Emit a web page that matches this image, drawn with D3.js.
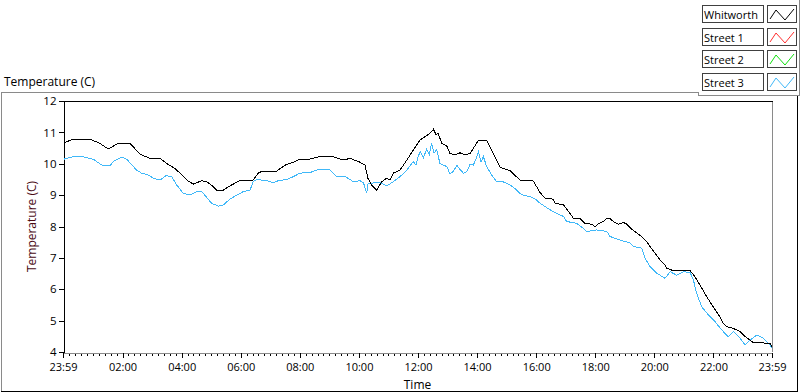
<!DOCTYPE html>
<html>
<head>
<meta charset="utf-8">
<script src="https://cdn.jsdelivr.net/npm/d3@7"></script>
<style>
  body { margin: 0; background: #fff; }
  svg { display: block; font-family: "Open Sans", "Liberation Sans", sans-serif; }
</style>
</head>
<body>
<div id="chart"></div>
<script>
// hours after the 23:59 start, and temperatures (C)
const whitworthHours = [0.00, 0.29, 0.97, 1.25, 1.53, 1.87, 2.27, 2.61, 2.95, 3.28, 3.51, 3.79, 3.96, 4.19, 4.41, 4.70, 4.86, 5.09, 5.20, 5.43, 5.60, 5.82, 5.99, 6.43, 6.61, 6.73, 7.23, 7.35, 7.57, 7.80, 8.02, 8.36, 8.70, 9.14, 9.48, 9.72, 10.05, 10.22, 10.32, 10.45, 10.62, 10.79, 10.96, 11.07, 11.18, 11.41, 11.64, 11.86, 12.09, 12.25, 12.42, 12.54, 12.63, 12.70, 12.82, 12.99, 13.10, 13.27, 13.44, 13.61, 13.78, 13.89, 14.06, 14.34, 14.51, 14.68, 14.79, 15.13, 15.47, 15.92, 16.15, 16.32, 16.60, 16.66, 16.94, 17.16, 17.28, 17.50, 17.67, 17.90, 18.01, 18.12, 18.29, 18.41, 18.52, 18.63, 18.80, 18.97, 19.09, 19.25, 19.42, 19.59, 19.76, 19.87, 20.04, 20.21, 20.38, 20.44, 20.61, 21.23, 21.39, 21.56, 21.79, 22.01, 22.24, 22.35, 22.47, 22.69, 22.92, 23.09, 23.26, 23.37, 23.93, 24.00];
const whitworthTemp = [10.66, 10.76, 10.76, 10.65, 10.47, 10.65, 10.65, 10.30, 10.17, 10.17, 10.01, 9.85, 9.70, 9.48, 9.35, 9.46, 9.43, 9.27, 9.16, 9.16, 9.27, 9.38, 9.47, 9.47, 9.70, 9.76, 9.76, 9.85, 9.98, 10.05, 10.15, 10.15, 10.23, 10.23, 10.12, 10.17, 10.05, 9.96, 9.54, 9.32, 9.16, 9.43, 9.54, 9.48, 9.70, 9.80, 10.12, 10.44, 10.76, 10.86, 10.97, 11.10, 10.92, 10.97, 10.65, 10.57, 10.33, 10.28, 10.35, 10.28, 10.33, 10.49, 10.74, 10.74, 10.44, 10.12, 9.89, 9.78, 9.48, 9.45, 9.08, 8.90, 8.87, 8.74, 8.69, 8.42, 8.26, 8.26, 8.10, 8.07, 8.00, 8.08, 8.16, 8.26, 8.25, 8.16, 8.07, 8.13, 8.07, 7.91, 7.80, 7.68, 7.52, 7.36, 7.15, 6.93, 6.77, 6.67, 6.61, 6.59, 6.40, 6.14, 5.76, 5.44, 5.12, 4.91, 4.81, 4.75, 4.65, 4.49, 4.38, 4.30, 4.28, 4.17];

const street3Hours = [0.01, 0.35, 0.63, 1.03, 1.36, 1.59, 1.70, 1.99, 2.16, 2.49, 2.66, 2.89, 3.06, 3.28, 3.49, 3.68, 3.85, 4.07, 4.30, 4.53, 4.70, 4.86, 5.03, 5.26, 5.43, 5.65, 5.88, 6.10, 6.33, 6.44, 6.56, 6.90, 7.12, 7.29, 7.57, 7.80, 8.02, 8.36, 8.70, 9.04, 9.27, 9.55, 9.83, 10.05, 10.17, 10.28, 10.32, 10.39, 10.73, 10.96, 11.18, 11.41, 11.64, 11.86, 11.95, 12.02, 12.09, 12.20, 12.31, 12.40, 12.48, 12.56, 12.65, 12.76, 12.99, 13.10, 13.21, 13.33, 13.44, 13.55, 13.67, 13.78, 13.89, 14.00, 14.06, 14.15, 14.23, 14.34, 14.51, 14.68, 14.91, 15.13, 15.36, 15.47, 15.58, 15.81, 15.98, 16.15, 16.49, 16.71, 16.94, 17.05, 17.39, 17.61, 17.73, 18.07, 18.41, 18.52, 18.86, 19.20, 19.31, 19.59, 19.70, 19.87, 20.10, 20.38, 20.55, 20.77, 21.00, 21.23, 21.34, 21.45, 21.62, 21.85, 22.07, 22.30, 22.52, 22.69, 22.92, 23.09, 23.26, 23.48, 23.71, 23.93, 24.00];
const street3Temp = [10.14, 10.23, 10.23, 10.14, 9.93, 9.93, 10.07, 10.21, 10.14, 9.80, 9.70, 9.64, 9.54, 9.48, 9.62, 9.59, 9.32, 9.06, 9.00, 9.11, 9.11, 8.93, 8.74, 8.65, 8.69, 8.87, 9.00, 9.11, 9.16, 9.43, 9.50, 9.46, 9.40, 9.46, 9.50, 9.59, 9.70, 9.72, 9.83, 9.80, 9.59, 9.59, 9.43, 9.46, 9.40, 9.06, 9.35, 9.38, 9.40, 9.29, 9.43, 9.59, 9.80, 10.07, 9.95, 10.22, 10.39, 10.20, 10.46, 10.30, 10.65, 10.35, 10.44, 10.01, 9.91, 9.68, 9.75, 9.95, 9.82, 9.70, 9.75, 9.98, 9.96, 10.20, 10.39, 10.05, 10.23, 9.91, 9.64, 9.43, 9.42, 9.33, 9.16, 9.05, 9.00, 8.95, 8.88, 8.74, 8.53, 8.42, 8.32, 8.16, 8.10, 7.94, 7.84, 7.89, 7.84, 7.68, 7.57, 7.47, 7.36, 7.31, 6.99, 6.72, 6.51, 6.35, 6.56, 6.45, 6.56, 6.53, 6.29, 5.87, 5.44, 5.18, 4.97, 4.70, 4.49, 4.65, 4.44, 4.22, 4.38, 4.54, 4.44, 4.22, 4.12];

const yTicks = [4, 5, 6, 7, 8, 9, 10, 11, 12];
const xTickHours = ["02:00", "04:00", "06:00", "08:00", "10:00", "12:00", "14:00", "16:00", "18:00", "20:00", "22:00"];
const legendNames = ["Whitworth", "Street 1", "Street 2", "Street 3"];
const legendColors = ["#000000", "#ff3030", "#10e010", "#40b8f8"];

const width = 800, height = 392;
const plot = { left: 63, right: 772, top: 101, bottom: 352 };
const font = "'Open Sans', 'Liberation Sans', sans-serif";

const svg = d3.select("#chart").append("svg")
    .attr("width", width)
    .attr("height", height);

// time scale: 23:59 one day to 23:59 the next
const start = new Date(2000, 0, 1, 23, 59);
const end = new Date(2000, 0, 2, 23, 59);
const toDate = h => new Date(start.getTime() + h * 3600000);

const x = d3.scaleTime().domain([start, end]).range([plot.left, plot.right]);
const y = d3.scaleLinear().domain([4, 12]).range([plot.bottom, plot.top]);

// outer frame
const frame = svg.append("g").attr("shape-rendering", "crispEdges");
frame.append("path").attr("d", "M1.5,391 V92.5 H698.5 V95.5 H799.5 V0")
    .attr("fill", "none").attr("stroke", "#8a8a8a");
frame.append("path").attr("d", "M1,391.5 H797.5 V96")
    .attr("fill", "none").attr("stroke", "#000");

svg.append("text")
    .attr("x", 4).attr("y", 86)
    .attr("font-size", 12).attr("fill", "#000")
    .text("Temperature (C)");

// legend
const legend = svg.append("g");
legendNames.forEach((name, i) => {
    const top = 5 + i * 22.7;
    const g = legend.append("g").attr("transform", `translate(0,${Math.round(top)})`);
    g.append("rect").attr("x", 702.5).attr("y", 0.5).attr("width", 61).attr("height", 17)
        .attr("fill", "#fff").attr("stroke", "#404040").attr("shape-rendering", "crispEdges");
    g.append("text").attr("x", 704).attr("y", 13.5).attr("font-size", 11)
        .attr("fill", "#000").text(name);
    g.append("rect").attr("x", 767.5).attr("y", 0.5).attr("width", 29).attr("height", 17)
        .attr("fill", "#fff").attr("stroke", "#404040").attr("shape-rendering", "crispEdges");
    g.append("path").attr("d", "M770,14 L776,5 L785,15 L794,4")
        .attr("fill", "none").attr("stroke", legendColors[i]).attr("stroke-width", 1);
});

// plot borders
const border = svg.append("g").attr("shape-rendering", "crispEdges");
border.append("line").attr("x1", plot.right + 0.5).attr("x2", plot.right + 0.5)
    .attr("y1", plot.top).attr("y2", plot.bottom).attr("stroke", "#8a8a8a");
border.append("line").attr("x1", plot.left).attr("x2", plot.right + 1)
    .attr("y1", plot.top + 0.5).attr("y2", plot.top + 0.5).attr("stroke", "#000");

// y axis
const yAxis = svg.append("g")
    .attr("transform", `translate(${plot.left + 0.5},0)`)
    .call(d3.axisLeft(y).tickValues(yTicks).tickSize(5).tickPadding(2).tickSizeOuter(0));
yAxis.select(".domain").attr("stroke", "#000");
yAxis.selectAll(".tick line").attr("stroke", "#000");
yAxis.selectAll("text").attr("font-size", 11.5).attr("fill", "#000").attr("font-family", font);
yAxis.attr("shape-rendering", "crispEdges");

svg.append("text")
    .attr("transform", `translate(36,${(plot.top + plot.bottom) / 2}) rotate(-90)`)
    .attr("text-anchor", "middle").attr("font-size", 12).attr("fill", "#4a0a14")
    .text("Temperature (C)");

// x axis: minor ticks every 12 minutes, major every 2 hours
const majorDates = [start].concat(xTickHours.map(t => {
    const [hh, mm] = t.split(":").map(Number);
    return new Date(2000, 0, 2, hh, mm);
})).concat([end]);
const minorDates = d3.timeMinute.every(12).range(start, end);

const xMinor = svg.append("g")
    .attr("transform", `translate(0,${plot.bottom + 0.5})`)
    .call(d3.axisBottom(x).tickValues(minorDates).tickSize(3).tickFormat(""));
xMinor.select(".domain").remove();
xMinor.attr("shape-rendering", "crispEdges");

const xAxis = svg.append("g")
    .attr("transform", `translate(0,${plot.bottom + 0.5})`)
    .call(d3.axisBottom(x).tickValues(majorDates).tickSize(5).tickSizeOuter(0)
        .tickFormat(d3.timeFormat("%H:%M")).tickPadding(6));
xAxis.select(".domain").attr("stroke", "#8a8a8a");
xAxis.attr("shape-rendering", "crispEdges");
xAxis.selectAll("text").attr("font-size", 11).attr("fill", "#000").attr("font-family", font);

svg.append("text")
    .attr("x", (plot.left + plot.right) / 2).attr("y", 389)
    .attr("text-anchor", "middle").attr("font-size", 12).attr("fill", "#000")
    .text("Time");

// series
svg.append("clipPath").attr("id", "clip")
    .append("rect").attr("x", plot.left + 1).attr("y", plot.top + 1)
    .attr("width", plot.right - plot.left - 1).attr("height", plot.bottom - plot.top - 1);

const line = d3.line().x(d => x(toDate(d[0]))).y(d => y(d[1]));
const series = [
    { hours: street3Hours, temp: street3Temp, color: legendColors[3] },
    { hours: whitworthHours, temp: whitworthTemp, color: legendColors[0] }
];
const lines = svg.append("g").attr("clip-path", "url(#clip)");
series.forEach(s => {
    lines.append("path")
        .datum(d3.zip(s.hours, s.temp))
        .attr("d", line)
        .attr("fill", "none")
        .attr("stroke", s.color)
        .attr("stroke-width", 1)
        .attr("shape-rendering", "crispEdges");
});
</script>
</body>
</html>
